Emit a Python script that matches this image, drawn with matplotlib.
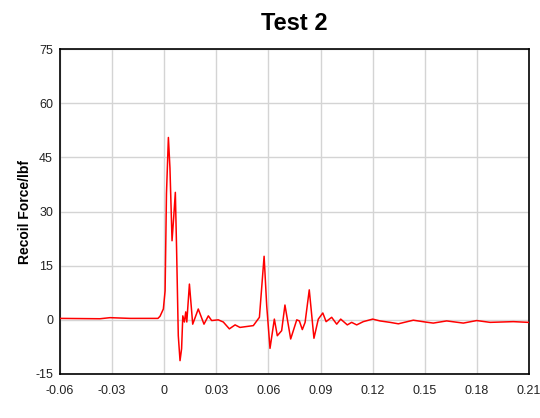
import matplotlib
matplotlib.use("Agg")
import matplotlib.pyplot as plt
import numpy as np

plt.rcParams['font.family'] = ['Liberation Sans', 'DejaVu Sans']
plt.rcParams['axes.unicode_minus'] = False

# recoil trace, time in s and force in lbf
time_s = [
    -0.0600, -0.0370, -0.0312, -0.0197, -0.0036, -0.0024, -0.0005, 0.0005,
    0.0013, 0.0024, 0.0033, 0.0045, 0.0054, 0.0064, 0.0071, 0.0081,
    0.0091, 0.0100, 0.0107, 0.0116, 0.0124, 0.0130, 0.0145, 0.0164,
    0.0177, 0.0196, 0.0229, 0.0254, 0.0273, 0.0311, 0.0340, 0.0375,
    0.0408, 0.0436, 0.0513, 0.0548, 0.0575, 0.0590, 0.0609, 0.0634,
    0.0651, 0.0676, 0.0695, 0.0728, 0.0763, 0.0778, 0.0795, 0.0811,
    0.0835, 0.0862, 0.0887, 0.0913, 0.0932, 0.0964, 0.0993, 0.1016,
    0.1054, 0.1079, 0.1108, 0.1146, 0.1200, 0.1242, 0.1300, 0.1348,
    0.1434, 0.1502, 0.1549, 0.1626, 0.1722, 0.1799, 0.1876, 0.2010,
    0.2096,
]
force_lbf = [
    0.4, 0.3, 0.6, 0.4, 0.4, 1.0, 3.0, 8.0,
    35.0, 50.5, 42.0, 21.9, 28.0, 35.3, 20.0, -4.4,
    -11.3, -8.0, 1.1, -0.6, 2.2, -0.6, 9.9, -1.2,
    0.5, 3.0, -1.2, 1.1, -0.2, 0.0, -0.6, -2.5,
    -1.4, -2.1, -1.6, 0.7, 17.6, 3.9, -7.9, 0.2,
    -4.4, -3.0, 4.1, -5.3, 0.0, -0.3, -2.7, -0.7,
    8.3, -5.1, 0.2, 1.9, -0.5, 0.7, -1.2, 0.2,
    -1.4, -0.7, -1.4, -0.5, 0.2, -0.3, -0.7, -1.1,
    -0.1, -0.6, -0.9, -0.3, -0.9, -0.2, -0.7, -0.5,
    -0.7,
]

x_ticks = [-0.06, -0.03, 0, 0.03, 0.06, 0.09, 0.12, 0.15, 0.18, 0.21]
x_labels = ['-0.06', '-0.03', '0', '0.03', '0.06', '0.09', '0.12', '0.15', '0.18', '0.21']
y_ticks = [-15, 0, 15, 30, 45, 60, 75]

W, H = 540, 418
fig = plt.figure(figsize=(W / 100, H / 100), dpi=100)
ax = fig.add_axes([60 / W, (H - 374) / H, 469 / W, 325 / H])

ax.plot(time_s, force_lbf, color='red', lw=1.1, zorder=3)

ax.set_xlim(-0.06, 0.21)
ax.set_ylim(-15, 75)
ax.set_xticks(x_ticks)
ax.set_xticklabels(x_labels)
ax.set_yticks(y_ticks)
ax.grid(True, color='#d4d4d4', lw=1.0)
ax.set_axisbelow(True)
ax.tick_params(axis='both', length=0, labelsize=9, colors='#222222')
ax.tick_params(axis='x', pad=8)
ax.tick_params(axis='y', pad=5)
for sp in ax.spines.values():
    sp.set_color('black')
    sp.set_linewidth(1.2)

ax.set_ylabel('Recoil Force/lbf', fontsize=10, fontweight='bold', labelpad=2)
fig.text(294 / W, 1 - 23 / H, 'Test 2', fontsize=17, fontweight='bold',
         ha='center', va='center')

fig.savefig('out.png', dpi=100)
